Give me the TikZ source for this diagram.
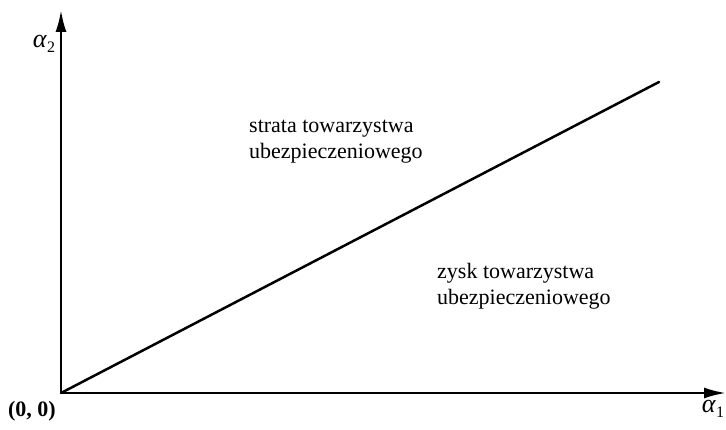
\documentclass[tikz,border=0pt]{standalone}
\usepackage{fontspec}
\setmainfont{Liberation Serif}
\usetikzlibrary{arrows.meta}
\newcommand{\sym}[2]{\textit{#1}\raisebox{-0.2em}{\fontsize{16}{18}\selectfont #2}}
\begin{document}
\begin{tikzpicture}[x=1pt,y=-1pt,
  axis/.style={line width=2.5pt,-{Latex[length=22pt,width=11pt]}},
  lab/.style={font=\fontsize{22}{26}\selectfont,align=left,anchor=north west,inner sep=0pt},
  sym/.style={font=\fontsize{26}{30}\selectfont,inner sep=0pt}]
\useasboundingbox (0,0) rectangle (726,430);
\coordinate (O) at (61,393);
\coordinate (Y) at (61,10);
\coordinate (X) at (726,393);
\coordinate (E) at (659,82);
\draw[axis] (O) -- (Y);
\draw[axis] (O) -- (X);
\draw[line width=2.5pt,line cap=round] (O) -- (E);
\node[sym] (a2) at (44,44) {\sym{α}{2}};
\node[sym] (a1) at (713,409) {\sym{α}{1}};
\node[inner sep=0pt,font=\fontsize{22}{26}\selectfont\bfseries] (o) at (32,411) {(0, 0)};
\node[lab] (s) at (249,120) {strata towarzystwa\\ubezpieczeniowego};
\node[lab] (z) at (437,263) {zysk towarzystwa\\ubezpieczeniowego};
\end{tikzpicture}
\end{document}
